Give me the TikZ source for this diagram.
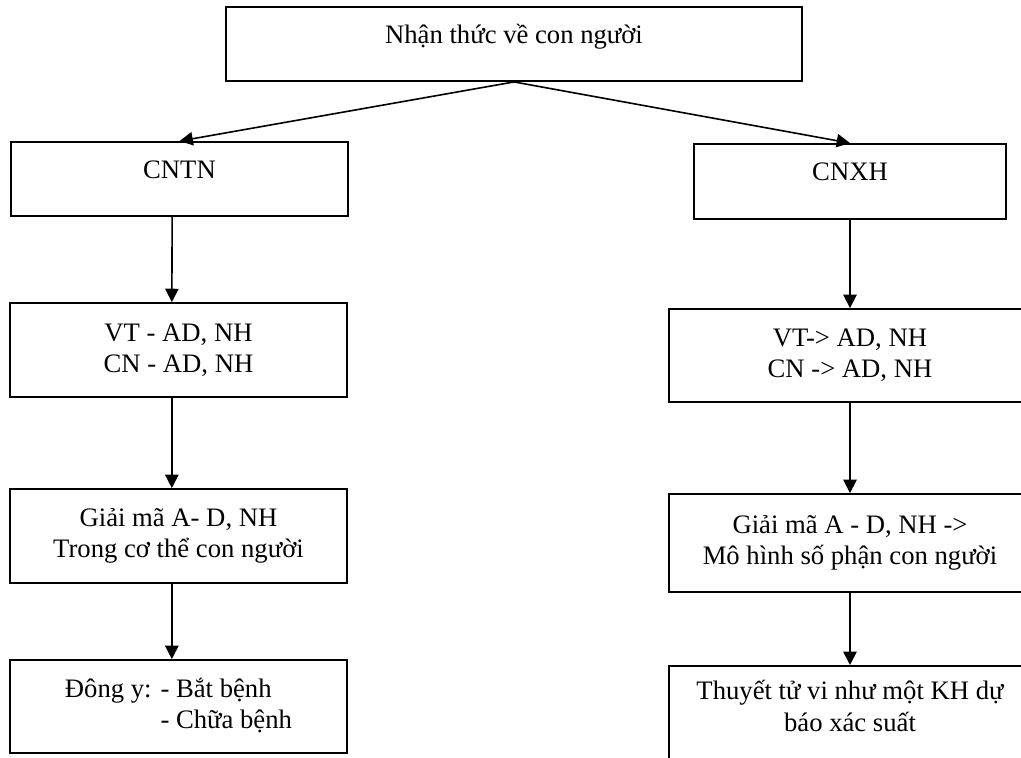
\documentclass[tikz,border=0pt]{standalone}
\usepackage{fontspec}
\setmainfont{Liberation Serif}
\usetikzlibrary{arrows.meta}

\begin{document}
\begin{tikzpicture}[x=0.75pt, y=-0.75pt,
    blk/.style={rectangle, draw=black, line width=1.4pt, align=center, inner sep=0pt, font=\fontsize{20}{23.5}\selectfont},
    one/.style={text height=13pt, text depth=14pt},
    lcol/.style={blk, minimum width=252.75pt},
    rcol/.style={blk, minimum width=271.5pt},
    arr/.style={-{Triangle[length=10pt, width=10pt]}, line width=1.2pt}
]
\useasboundingbox (0,0) rectangle (1021,757);
\clip (0,0) rectangle (1021,757);

\node[blk, one, minimum width=432pt, minimum height=55.5pt] (nhanthuc) at (514, 44) {Nhận thức về con người};

% left column
\node[lcol, one, minimum height=55.5pt] (cntn) at (179.5, 179) {CNTN};
\node[lcol, minimum height=70.5pt] (vtl) at (178.5, 350) {VT - AD, NH\\CN - AD, NH};
\node[lcol, minimum height=70.5pt] (gml) at (178.5, 536) {Giải mã A- D, NH\\Trong cơ thể con người};
\node[lcol, align=left, minimum height=69.75pt] (dongy) at (178.5, 706.5) {Đông y: - Bắt bệnh\\\phantom{Đông y: }- Chữa bệnh};

% right column
\node[blk, one, minimum width=234pt, minimum height=56.25pt] (cnxh) at (850, 181.5) {CNXH};
\node[rcol, minimum height=69.75pt] (vtr) at (850, 355.5) {VT-> AD, NH\\CN -> AD, NH};
\node[rcol, minimum height=73.5pt] (gmr) at (850, 543) {Giải mã A - D, NH ->\\Mô hình số phận con người};
\node[rcol, anchor=north, minimum height=90pt, text depth=30pt] (tuvi) at (850, 665) {Thuyết tử vi như một KH dự\\báo xác suất};

\draw[arr] (nhanthuc.south) -- (cntn.north);
\draw[arr] (nhanthuc.south) -- (cnxh.north);
\draw[arr] ([xshift=-5.5pt]cntn.south) -- ([xshift=-5pt]vtl.north);
\draw[arr] ([xshift=-5pt]vtl.south) -- ([xshift=-5pt]gml.north);
\draw[arr] ([xshift=-5pt]gml.south) -- ([xshift=-5pt]dongy.north);
\draw[arr] (cnxh) -- (vtr);
\draw[arr] (vtr) -- (gmr);
\draw[arr] (gmr) -- (tuvi);
\end{tikzpicture}
\end{document}
